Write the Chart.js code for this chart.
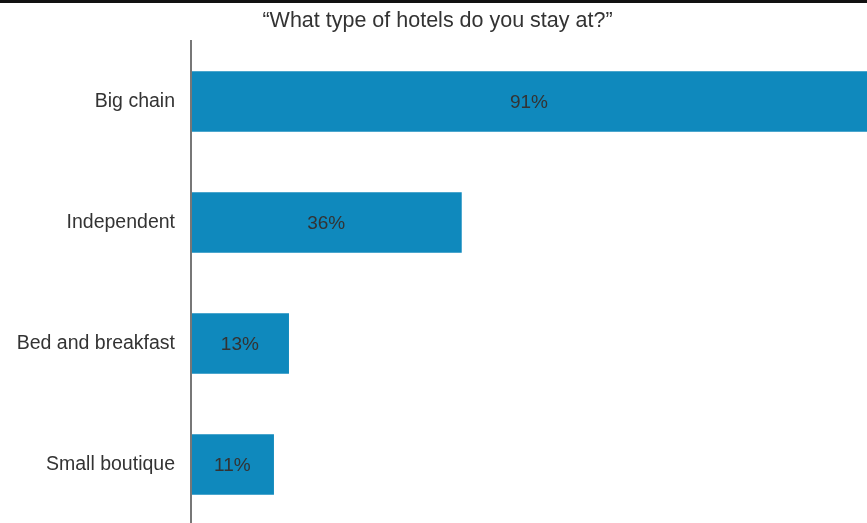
<!DOCTYPE html>
<html>
<head>
<meta charset="utf-8">
<script src="https://cdn.jsdelivr.net/npm/chart.js@4.4.1/dist/chart.umd.min.js"></script>
<style>
  html, body { margin: 0; padding: 0; background: #fff; overflow: hidden; }
  canvas { display: block; }
</style>
</head>
<body>
<canvas id="chart" width="867" height="525"></canvas>
<script>
// Survey answers: share of respondents by hotel type
const hotelTypes = ['Big chain', 'Independent', 'Bed and breakfast', 'Small boutique'];
const sharePercent = [91, 36, 13, 11];
const chartTitle = '\u201CWhat type of hotels do you stay at?\u201D';

const BAR_COLOR = '#0F89BD';
const TEXT_COLOR = '#333333';
const FONT = '"Liberation Sans", Arial, sans-serif';
const PLOT_LEFT = 191;

// Title, top rule, vertical axis line and in-bar value labels
const decorations = {
  id: 'decorations',
  beforeDraw(chart) {
    const ctx = chart.ctx;
    ctx.save();
    ctx.fillStyle = '#fff';
    ctx.fillRect(0, 0, chart.width, chart.height);
    ctx.fillStyle = '#111';
    ctx.fillRect(0, 0, chart.width, 3);
    ctx.fillStyle = TEXT_COLOR;
    ctx.font = '21.5px ' + FONT;
    ctx.textAlign = 'center';
    ctx.textBaseline = 'alphabetic';
    ctx.fillText(chartTitle, 437.5, 27);
    ctx.restore();
  },
  afterDatasetsDraw(chart) {
    const ctx = chart.ctx;
    const area = chart.chartArea;
    ctx.save();
    // axis line
    ctx.fillStyle = '#777';
    ctx.fillRect(190, 40, 2, chart.height - 40);
    // value labels, centred on the visible part of each bar
    const meta = chart.getDatasetMeta(0);
    ctx.fillStyle = TEXT_COLOR;
    ctx.font = '19px ' + FONT;
    ctx.textAlign = 'center';
    ctx.textBaseline = 'middle';
    meta.data.forEach((bar, i) => {
      const left = Math.max(bar.base, area.left);
      const right = Math.min(bar.x, chart.width);
      ctx.fillText(sharePercent[i] + '%', (left + right) / 2, bar.y + 1);
    });
    ctx.restore();
  }
};

new Chart(document.getElementById('chart'), {
  type: 'bar',
  data: {
    labels: hotelTypes,
    datasets: [{
      data: sharePercent,
      backgroundColor: BAR_COLOR,
      borderWidth: 0,
      barThickness: 60
    }]
  },
  options: {
    indexAxis: 'y',
    responsive: false,
    animation: false,
    layout: { autoPadding: false, padding: { top: 41, left: 0, right: 0, bottom: 0 } },
    plugins: {
      legend: { display: false },
      tooltip: { enabled: false },
      title: { display: false }
    },
    scales: {
      x: {
        display: false,
        min: 0,
        max: 90
      },
      y: {
        grid: { display: false, drawTicks: false },
        border: { display: false },
        ticks: {
          color: TEXT_COLOR,
          font: { family: FONT, size: 19.5 },
          padding: 16
        },
        afterFit(scale) {
          scale.width = PLOT_LEFT;
          // labels sit beside the bars, so no extra room above/below the axis
          scale.paddingTop = 0;
          scale.paddingBottom = 0;
        }
      }
    }
  },
  plugins: [decorations]
});
</script>
</body>
</html>
